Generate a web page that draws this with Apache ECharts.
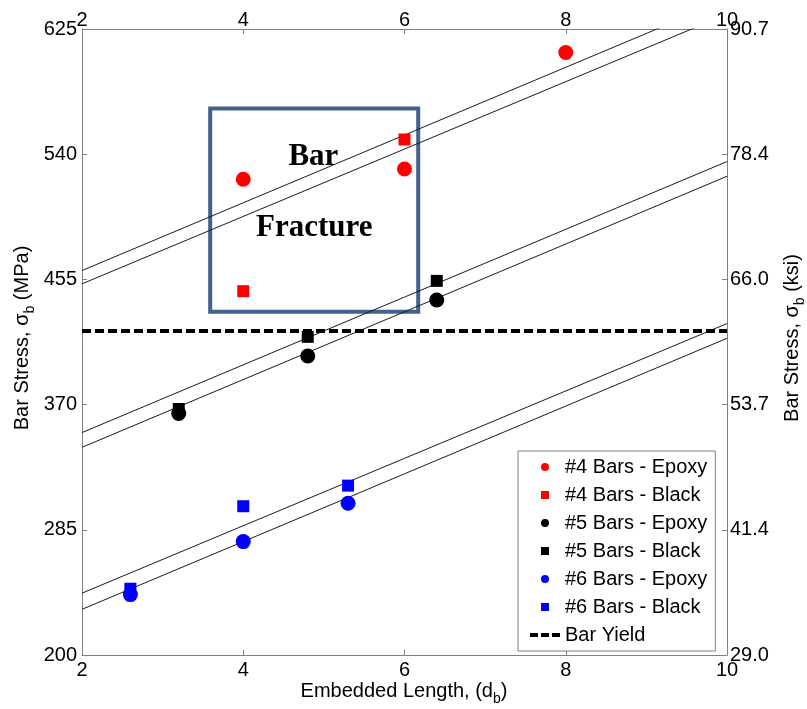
<!DOCTYPE html>
<html>
<head>
<meta charset="utf-8">
<title>Bar Stress vs Embedded Length</title>
<script src="https://cdn.jsdelivr.net/npm/echarts@6/dist/echarts.min.js"></script>
<style>
  html, body { margin: 0; padding: 0; background: #fff; }
  #chart { width: 807px; height: 709px; }
</style>
</head>
<body>
<div id="chart"></div>
<script>
// ---- data: embedded length (d_b) vs bar stress (MPa) ----
const bar4EpoxyX = [4, 6, 8];
const bar4EpoxyY = [523, 530, 609];
const bar4BlackX = [4, 6];
const bar4BlackY = [447, 550];
const bar5EpoxyX = [3.2, 4.8, 6.4];
const bar5EpoxyY = [364, 403, 441];
const bar5BlackX = [3.2, 4.8, 6.4];
const bar5BlackY = [367, 416, 454];
const bar6EpoxyX = [2.6, 4, 5.3];
const bar6EpoxyY = [241, 277, 303];
const bar6BlackX = [2.6, 4, 5.3];
const bar6BlackY = [245, 301, 315];

const yieldStress = 420;

// fitted bands (stress at x = 2 and x = 10)
const fitX = [2, 10];
const fit4Upper = [461, 645];
const fit4Lower = [452, 635];
const fit5Upper = [351, 535];
const fit5Lower = [341, 525];
const fit6Upper = [242, 425];
const fit6Lower = [231, 415];

// "Bar Fracture" region
const fractureBoxX = [3.59, 6.17];
const fractureBoxY = [433, 571];

// ticks
const xTicks = [2, 4, 6, 8, 10];
const mpaTicks = [200, 285, 370, 455, 540, 625];
const ksiLabels = ['29.0', '41.4', '53.7', '66.0', '78.4', '90.7'];

const SQUARE = 'path://M0,0L10,0L10,10L0,10Z';
const legendItems = [
  { name: '#4 Bars - Epoxy', icon: 'circle' },
  { name: '#4 Bars - Black', icon: SQUARE },
  { name: '#5 Bars - Epoxy', icon: 'circle' },
  { name: '#5 Bars - Black', icon: SQUARE },
  { name: '#6 Bars - Epoxy', icon: 'circle' },
  { name: '#6 Bars - Black', icon: SQUARE },
  { name: 'Bar Yield', itemStyle: { opacity: 0 }, lineStyle: { width: 4, type: [8, 3] } }
];

const SANS = 'Liberation Sans, Arial, sans-serif';
const SERIF = 'Liberation Serif, Times New Roman, serif';

const zip = (xs, ys) => xs.map((x, i) => [x, ys[i]]);

function pts(name, xs, ys, color, symbol) {
  return {
    name, type: 'scatter', data: zip(xs, ys),
    symbol, symbolSize: symbol === 'circle' ? 15 : 12,
    itemStyle: { color, opacity: 1 }, z: 5
  };
}

function fit(ys) {
  return {
    type: 'line', data: zip(fitX, ys), symbol: 'none', silent: true,
    lineStyle: { color: '#1a1a1a', width: 1 }, z: 3
  };
}

const axisCommon = {
  axisLine: { lineStyle: { color: '#808080', width: 1 } },
  axisTick: { inside: true, length: 5, lineStyle: { color: '#808080' } },
  splitLine: { show: false },
  axisLabel: { color: '#000', fontFamily: SANS, fontSize: 20 }
};

const xAx = (pos, margin) => ({
  ...axisCommon, type: 'value', position: pos, min: 2, max: 10, interval: 2,
  axisLabel: { ...axisCommon.axisLabel, margin, customValues: xTicks }
});

const yAx = (pos, margin, fmt) => ({
  ...axisCommon, type: 'value', position: pos, min: 200, max: 625,
  axisTick: { ...axisCommon.axisTick, customValues: mpaTicks },
  axisLabel: { ...axisCommon.axisLabel, margin, customValues: mpaTicks, formatter: fmt }
});

const chart = echarts.init(document.getElementById('chart'));

chart.setOption({
  animation: false,
  backgroundColor: '#fff',
  grid: { left: 82, right: 80, top: 29, bottom: 54 },
  xAxis: [xAx('bottom', 5), xAx('top', -1)],
  yAxis: [
    yAx('left', 5, v => String(v)),
    yAx('right', 3, v => ksiLabels[mpaTicks.indexOf(v)] || '')
  ],
  legend: {
    orient: 'vertical', left: 518, top: 451,
    padding: [6, 8, 6, 10],
    itemWidth: 30, itemHeight: 8, itemGap: 8,
    borderColor: '#808080', borderWidth: 1, backgroundColor: '#fff',
    textStyle: { color: '#000', fontFamily: SANS, fontSize: 20, lineHeight: 20 },
    data: legendItems
  },
  series: [
    fit(fit4Upper), fit(fit4Lower),
    fit(fit5Upper), fit(fit5Lower),
    fit(fit6Upper), fit(fit6Lower),
    {
      name: 'Bar Yield', type: 'line', data: zip(fitX, [yieldStress, yieldStress]),
      symbol: 'none', itemStyle: { color: '#000' },
      lineStyle: { color: '#000', width: 4, type: [9, 4] }, z: 4,
      markArea: {
        silent: true,
        itemStyle: { color: 'rgba(0,0,0,0)', borderColor: '#41618f', borderWidth: 4 },
        data: [[
          { coord: [fractureBoxX[0], fractureBoxY[1]] },
          { coord: [fractureBoxX[1], fractureBoxY[0]] }
        ]]
      }
    },
    pts('#4 Bars - Epoxy', bar4EpoxyX, bar4EpoxyY, '#ff0000', 'circle'),
    pts('#4 Bars - Black', bar4BlackX, bar4BlackY, '#ff0000', 'rect'),
    pts('#5 Bars - Epoxy', bar5EpoxyX, bar5EpoxyY, '#000000', 'circle'),
    pts('#5 Bars - Black', bar5BlackX, bar5BlackY, '#000000', 'rect'),
    pts('#6 Bars - Epoxy', bar6EpoxyX, bar6EpoxyY, '#0000ff', 'circle'),
    pts('#6 Bars - Black', bar6BlackX, bar6BlackY, '#0000ff', 'rect')
  ]
});

// annotation text and axis titles
const barPos = chart.convertToPixel({ gridIndex: 0 }, [4.87, 538]);
const fracPos = chart.convertToPixel({ gridIndex: 0 }, [4.88, 490]);

const subRich = {
  n: { fontFamily: SANS, fontSize: 20, color: '#000', lineHeight: 30, verticalAlign: 'middle' },
  s: { fontFamily: SANS, fontSize: 14, color: '#000', lineHeight: 16, verticalAlign: 'bottom' }
};

function title(x, y, rot, parts) {
  return {
    type: 'text', x, y, rotation: rot,
    style: {
      text: parts, rich: subRich, align: 'center', verticalAlign: 'middle'
    }
  };
}

chart.setOption({
  graphic: [
    {
      type: 'text', x: barPos[0], y: barPos[1],
      style: { text: 'Bar', font: 'bold 31px ' + SERIF, fill: '#000', align: 'center', verticalAlign: 'middle' }
    },
    {
      type: 'text', x: fracPos[0], y: fracPos[1],
      style: { text: 'Fracture', font: 'bold 31px ' + SERIF, fill: '#000', align: 'center', verticalAlign: 'middle' }
    },
    title(404, 691, 0, '{n|Embedded Length, (d}{s|b}{n|)}'),
    title(22, 338, Math.PI / 2, '{n|Bar Stress, σ}{s|b}{n| (MPa)}'),
    title(792, 338, Math.PI / 2, '{n|Bar Stress, σ}{s|b}{n| (ksi)}')
  ]
});
</script>
</body>
</html>
